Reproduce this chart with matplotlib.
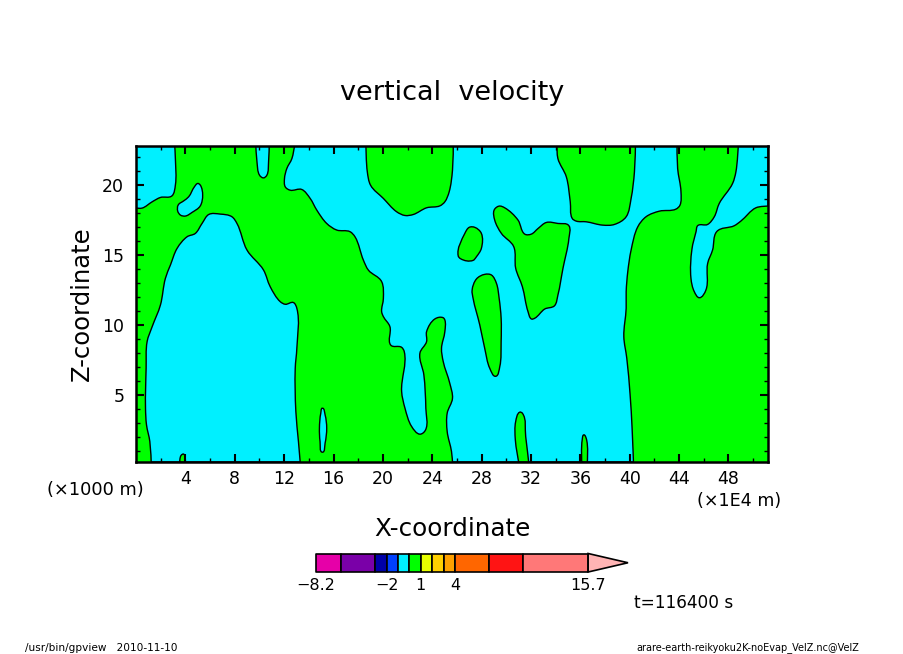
"""
gpview style section of vertical velocity, x-z plane.
"""

import numpy as np
import matplotlib
matplotlib.use('Agg')
import matplotlib.pyplot as plt
from matplotlib.patches import PathPatch
from matplotlib.path import Path

# -------------------- DATA --------------------
X_TICKS = [4, 8, 12, 16, 20, 24, 28, 32, 36, 40, 44, 48]
Z_TICKS = [5, 10, 15, 20]
X_MAX = 51.2
Z_MIN = 0.2
Z_MAX = 22.8

# contour regions, (x, z) in axis units
NEG_TOP_LEFT = [(0, 22.8), (3.14, 22.8), (3.19, 21.9), (3.19, 20.0), (2.92, 19.24), (1.98, 19.12),
                (1.31, 18.81), (0.5, 18.36), (0, 18.36)]
NEG_SMALL_ISLAND = [(3.41, 18.57), (3.38, 18.14), (3.6, 17.86), (4.0, 17.79), (4.54, 18.05), (5.21, 18.52),
                    (5.40, 19.29), (5.21, 20.0), (5.0, 20.12), (4.73, 19.88), (4.27, 19.17), (3.87, 18.88)]
NEG_LEFT = [(1.23, 0.2), (1.12, 1.67), (0.85, 2.86), (0.77, 4.05), (0.82, 6.9), (0.9, 8.81), (1.31, 9.88),
            (1.98, 11.43), (2.38, 13.33), (2.79, 14.29), (3.33, 15.48), (4.14, 16.31), (4.81, 16.55),
            (5.35, 17.26), (5.89, 17.9), (6.83, 17.93), (7.77, 17.74), (8.18, 17.26), (8.99, 15.36),
            (10.33, 13.93), (10.87, 12.74), (11.68, 11.67), (12.09, 11.48), (12.76, 11.6), (13.03, 11.19),
            (13.03, 8.33), (12.9, 6.9), (12.95, 3.81), (13.16, 1.67), (13.3, 0.2)]
NEG_TOP_NARROW = [(9.71, 22.8), (9.8, 21.67), (10.01, 20.71), (10.33, 20.52), (10.6, 20.71), (10.74, 21.67),
                  (10.79, 22.8)]
NEG_SLIVER = [(15.1, 4.05), (15.32, 3.57), (15.45, 2.62), (15.32, 1.55), (15.1, 0.9), (14.91, 1.67),
              (14.86, 2.62), (14.97, 3.69)]
NEG_CENTRE = [(12.84, 22.8), (12.63, 21.9), (12.22, 21.19), (12.03, 20.48), (12.09, 19.88), (12.49, 19.64),
              (13.43, 19.69), (14.11, 19.05), (14.65, 18.21), (15.45, 17.26), (16.26, 16.79), (17.34, 16.67),
              (17.74, 16.31), (18.42, 14.64), (18.82, 13.93), (19.9, 13.1), (20.04, 11.9), (19.9, 10.95),
              (20.04, 10.6), (20.57, 9.88), (20.63, 8.57), (21.52, 8.4), (21.73, 8.1), (21.52, 5.24),
              (21.79, 4.05), (22.33, 2.74), (23.0, 2.19), (23.46, 2.5), (23.48, 4.05), (23.32, 6.43),
              (23.0, 7.98), (23.54, 8.81), (23.54, 9.52), (24.21, 10.43), (24.88, 10.52), (25.02, 10.36),
              (25.02, 9.52), (24.75, 8.33), (24.89, 7.38), (25.42, 5.83), (25.64, 4.76), (25.21, 3.69),
              (25.21, 2.38), (25.56, 0.95), (25.64, 0.2), (40.3, 0.2), (40.19, 2.62), (40.03, 5.0),
              (39.76, 7.62), (39.52, 9.17), (39.71, 11.19), (39.71, 12.38), (39.84, 13.81), (40.11, 15.36),
              (40.65, 17.02), (41.32, 17.74), (42.4, 18.14), (43.75, 18.29), (44.07, 18.57), (44.15, 19.52),
              (43.88, 21.19), (43.83, 22.8)]
NEG_TOP_RIGHT = [(48.79, 22.8), (48.6, 20.95), (48.33, 20.12), (47.25, 18.69), (46.85, 17.74), (46.31, 17.19),
                 (45.5, 17.1), (45.37, 16.67), (45.04, 15.43), (44.96, 13.33), (45.23, 12.38), (45.64, 11.95),
                 (46.17, 12.5), (46.31, 14.4), (46.71, 15.36), (47.04, 16.67), (48.47, 17.1), (49.0, 17.43),
                 (50.22, 18.38), (51.2, 18.5), (51.2, 22.8)]

POS_BOTTOM_4 = [(3.54, 0.2), (3.65, 0.67), (3.87, 0.76), (4.0, 0.2)]
POS_TOP_22 = [(18.63, 22.8), (18.74, 20.95), (19.0, 20.0), (20.04, 19.05), (21.11, 18.1), (21.79, 17.83),
              (22.46, 17.9), (23.54, 18.38), (24.62, 18.52), (25.02, 18.81), (25.37, 19.52), (25.64, 21.07),
              (25.7, 22.8)]
POS_TOP_37 = [(34.1, 22.8), (34.18, 21.9), (34.86, 20.6), (35.18, 18.81), (35.34, 17.62), (35.66, 17.43),
              (36.47, 17.38), (37.82, 17.14), (38.76, 17.19), (39.71, 17.74), (40.11, 19.05), (40.38, 20.95),
              (40.46, 22.8)]
POS_ISLAND_27 = [(26.1, 14.95), (26.29, 14.74), (27.31, 14.62), (27.58, 14.88), (27.98, 15.48), (27.98, 16.55),
                 (27.45, 16.98), (26.99, 16.98), (26.64, 16.55)]
POS_ISLAND_28 = [(27.23, 12.5), (27.31, 11.9), (27.85, 10.0), (28.25, 8.33), (28.66, 6.9), (29.14, 6.33),
                 (29.47, 7.02), (29.58, 8.81), (29.58, 10.48), (29.42, 11.9), (29.2, 12.98), (28.8, 13.57),
                 (28.25, 13.62), (27.58, 13.29)]
POS_ISLAND_32 = [(29.01, 18.21), (29.06, 17.5), (29.6, 16.55), (30.6, 15.6), (30.76, 14.05), (31.3, 12.74),
                 (31.76, 10.95), (32.03, 10.43), (32.3, 10.48), (33.11, 11.14), (33.91, 11.38), (34.18, 12.14),
                 (34.59, 14.05), (35.07, 16.19), (35.07, 17.1), (34.18, 17.26), (33.24, 17.33), (32.57, 16.9),
                 (32.03, 16.5), (31.49, 16.5), (30.95, 17.5), (29.87, 18.38), (29.41, 18.5)]
POS_BOTTOM_31 = [(31.0, 0.2), (30.73, 1.79), (30.76, 3.1), (31.08, 3.76), (31.3, 3.69), (31.57, 2.02), (31.81, 0.2)]
POS_BOTTOM_36 = [(36.11, 0.2), (36.15, 1.79), (36.28, 2.14), (36.47, 1.9), (36.56, 0.2)]

NEG_REGIONS = [NEG_TOP_LEFT, NEG_SMALL_ISLAND, NEG_LEFT, NEG_TOP_NARROW, NEG_SLIVER, NEG_CENTRE, NEG_TOP_RIGHT]
POS_REGIONS = [POS_BOTTOM_4, POS_TOP_22, POS_TOP_37, POS_ISLAND_27, POS_ISLAND_28, POS_ISLAND_32,
               POS_BOTTOM_31, POS_BOTTOM_36]

# colour bar
BAR_LEVELS = [-8.2, -6, -3, -2, -1, 0, 1, 2, 3, 4, 7, 10, 15.7]
BAR_COLORS = ['#e600a8', '#7a00a8', '#0000a8', '#0040ff', '#00f0ff', '#00ff00', '#e8ff00',
              '#ffd000', '#ffa000', '#ff6600', '#ff1414', '#ff7878']
BAR_TICKS = [-8.2, -2, 1, 4, 15.7]
BAR_TICK_LABELS = ['\u22128.2', '\u22122', '1', '4', '15.7']
ARROW_COLOR = '#ffb4b4'
ARROW_TIP = 19.2

NEG_COLOR = '#00f0ff'
POS_COLOR = '#00ff00'

# -------------------- FIGURE --------------------
W, H = 904, 654
plt.rcParams['font.family'] = 'DejaVu Sans'
fig = plt.figure(figsize=(W / 100, H / 100), dpi=100)


def px_axes(left, top, right, bottom):
    return fig.add_axes([left / W, 1 - bottom / H, (right - left) / W, (bottom - top) / H])


def px_text(x, y, s, **kw):
    kw.setdefault('va', 'center')
    fig.text(x / W, 1 - y / H, s, **kw)


def on_edge(p):
    return p[0] in (0, X_MAX) or p[1] in (Z_MIN, Z_MAX)


def smooth_path(region):
    # closed bezier through the traced points, sharp where a contour meets the frame
    pts = np.array(region, dtype=float)
    n = len(pts)
    tangents = np.zeros_like(pts)
    for i in range(n):
        if on_edge(pts[i]):
            continue
        a = pts[i] - pts[i - 1]
        b = pts[(i + 1) % n] - pts[i]
        t = a / np.hypot(*a) + b / np.hypot(*b)
        tangents[i] = t / np.hypot(*t)
    verts = [pts[0]]
    codes = [Path.MOVETO]
    for i in range(n):
        j = (i + 1) % n
        seg = np.hypot(*(pts[j] - pts[i])) / 3
        verts += [pts[i] + tangents[i] * seg, pts[j] - tangents[j] * seg, pts[j]]
        codes += [Path.CURVE4] * 3
    return Path(verts, codes)


# -------------------- MAIN PANEL --------------------
ax = px_axes(136, 146, 768, 462)
ax.set_facecolor(POS_COLOR)
ax.set_xlim(0, X_MAX)
ax.set_ylim(Z_MIN, Z_MAX)

for region in NEG_REGIONS:
    ax.add_patch(PathPatch(smooth_path(region), fc=NEG_COLOR, ec='black', lw=1.0))
for region in POS_REGIONS:
    ax.add_patch(PathPatch(smooth_path(region), fc=POS_COLOR, ec='black', lw=1.0))

ax.set_xticks(X_TICKS)
ax.set_xticks(np.arange(2, X_MAX, 4), minor=True)
ax.set_yticks(Z_TICKS)
ax.set_yticks([z for z in range(1, 23) if z % 5 != 0], minor=True)
ax.tick_params(which='major', direction='in', top=True, right=True, length=6, width=1.5, labelsize=12.5)
ax.tick_params(which='minor', direction='in', top=True, right=True, length=3, width=1.0)
ax.tick_params(axis='x', which='major', pad=5.5)
ax.tick_params(axis='y', which='major', pad=8.5)
for spine in ax.spines.values():
    spine.set_linewidth(1.8)

# -------------------- COLOUR BAR --------------------
cax = px_axes(316, 553.5, 628, 572)
cax.set_xlim(BAR_LEVELS[0], ARROW_TIP)
cax.set_ylim(0, 1)
cax.axis('off')
for i, color in enumerate(BAR_COLORS):
    cax.fill_between(BAR_LEVELS[i:i + 2], 0, 1, fc=color, ec='black', lw=1.2, clip_on=False)
cax.fill([BAR_LEVELS[-1], ARROW_TIP, BAR_LEVELS[-1]], [0, 0.5, 1], fc=ARROW_COLOR, ec='black', lw=1.2,
         clip_on=False)
for tick, label in zip(BAR_TICKS, BAR_TICK_LABELS):
    fig.text((316 + (tick - BAR_LEVELS[0]) / (ARROW_TIP - BAR_LEVELS[0]) * 312) / W, 1 - 586 / H, label,
             ha='center', va='center', fontsize=11.5)

# -------------------- TEXT --------------------
px_text(452, 93, 'vertical  velocity', ha='center', fontsize=19.5)
px_text(452, 529, 'X-coordinate', ha='center', fontsize=17.7)
px_text(82, 304, 'Z-coordinate', ha='center', rotation=90, fontsize=17.5)
px_text(47, 490, '(\u00d71000 m)', ha='left', fontsize=12.8)
px_text(697, 501, '(\u00d71E4 m)', ha='left', fontsize=12.6)
px_text(634, 603, 't=116400 s', ha='left', fontsize=12.2)
px_text(25, 648, '/usr/bin/gpview   2010-11-10', ha='left', fontsize=7.6)
px_text(636, 648, 'arare-earth-reikyoku2K-noEvap_VelZ.nc@VelZ', ha='left', fontsize=7.05)

fig.savefig('out.png', dpi=100)
